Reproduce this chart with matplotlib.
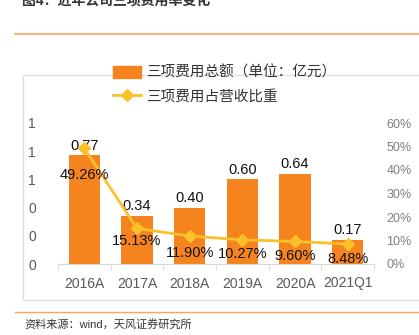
import matplotlib.pyplot as plt
from matplotlib.patches import Rectangle
from matplotlib.lines import Line2D
from matplotlib.ticker import FormatStrFormatter, PercentFormatter

plt.rcParams['font.family'] = ['Liberation Sans', 'Noto Sans CJK SC', 'DejaVu Sans']

# 三项费用数据
years = ['2016A', '2017A', '2018A', '2019A', '2020A', '2021Q1']
total_fee = [0.77, 0.34, 0.40, 0.60, 0.64, 0.17]       # 亿元
fee_ratio = [49.26, 15.13, 11.90, 10.27, 9.60, 8.48]   # %

bar_color = '#F5841F'
line_color = '#FCC02A'
W, H = 419, 335

fig = plt.figure(figsize=(W / 100, H / 100), dpi=100)

# 页面装饰：标题、橙色分隔线、外框、资料来源
fig.text(22 / W, 1.0, '图4：近年公司三项费用率变化', fontsize=10, fontweight='bold',
         color='#333333', va='center', ha='left')
fig.add_artist(Line2D([15 / W, 1], [1 - 34 / H] * 2, color='#F8A65C', lw=1.2))
fig.add_artist(Line2D([15 / W, 1], [1 - 312 / H] * 2, color='#F8A65C', lw=1.0))
fig.add_artist(Rectangle((23 / W, 1 - 300 / H), 1.2, 225 / H, fill=False,
                         edgecolor='#DDDDDD', lw=1.0))
fig.text(24 / W, 1 - 324 / H, '资料来源：wind，天风证券研究所', fontsize=8,
         color='#333333', va='center', ha='left')

ax = fig.add_axes([58 / W, 71 / H, 316 / W, 141 / H])
x = list(range(len(years)))
bars = ax.bar(x, total_fee, width=0.6, color=bar_color, zorder=2)
ax.set_xlim(-0.5, len(years) - 0.5)
ax.set_ylim(0, 1.0)
ax.set_yticks([0, 0.2, 0.4, 0.6, 0.8, 1.0])
ax.yaxis.set_major_formatter(FormatStrFormatter('%.0f'))
ax.set_xticks(x)
ax.set_xticklabels(years)
ax.set_xticks([i - 0.5 for i in range(len(years) + 1)], minor=True)
ax.tick_params(axis='x', which='major', length=0, pad=9, labelsize=10, labelcolor='#595959')
ax.tick_params(axis='x', which='minor', length=4, color='#D9D9D9', direction='out')
ax.tick_params(axis='y', length=0, pad=16, labelsize=10, labelcolor='#595959')
for s in ['top', 'right', 'left']:
    ax.spines[s].set_visible(False)
ax.spines['bottom'].set_color('#D9D9D9')

for xi, v in zip(x, total_fee):
    ax.text(xi, v + 0.02, f'{v:.2f}', ha='center', va='bottom', fontsize=10.5, color='#111111')

ax2 = ax.twinx()
ax2.plot(x, fee_ratio, color=line_color, lw=2, marker='D', markersize=6, zorder=3)
ax2.set_ylim(0, 60)
ax2.set_yticks([0, 10, 20, 30, 40, 50, 60])
ax2.yaxis.set_major_formatter(PercentFormatter(decimals=0))
ax2.tick_params(axis='y', length=0, pad=9, labelsize=9, labelcolor='#7F7F7F')
for s in ax2.spines.values():
    s.set_visible(False)

offsets = [-27, -13, -17, -14, -15, -15]
for xi, v, off in zip(x, fee_ratio, offsets):
    ax2.annotate(f'{v:.2f}%', (xi, v), xytext=(0, off), textcoords='offset pixels',
                 ha='center', va='center', fontsize=10.5, color='#111111', zorder=4)

handles = [Rectangle((0, 0), 1, 1, color=bar_color),
           Line2D([], [], color=line_color, lw=2, marker='D', markersize=6)]
fig.legend(handles, ['三项费用总额（单位：亿元）', '三项费用占营收比重'],
           loc='upper left', bbox_to_anchor=(107 / W, 1 - 60 / H), frameon=False,
           fontsize=10.5, handlelength=1.9, handleheight=0.9, labelspacing=0.65,
           handletextpad=0.4, borderaxespad=0, labelcolor='#333333')

fig.savefig('out.png', dpi=100)
